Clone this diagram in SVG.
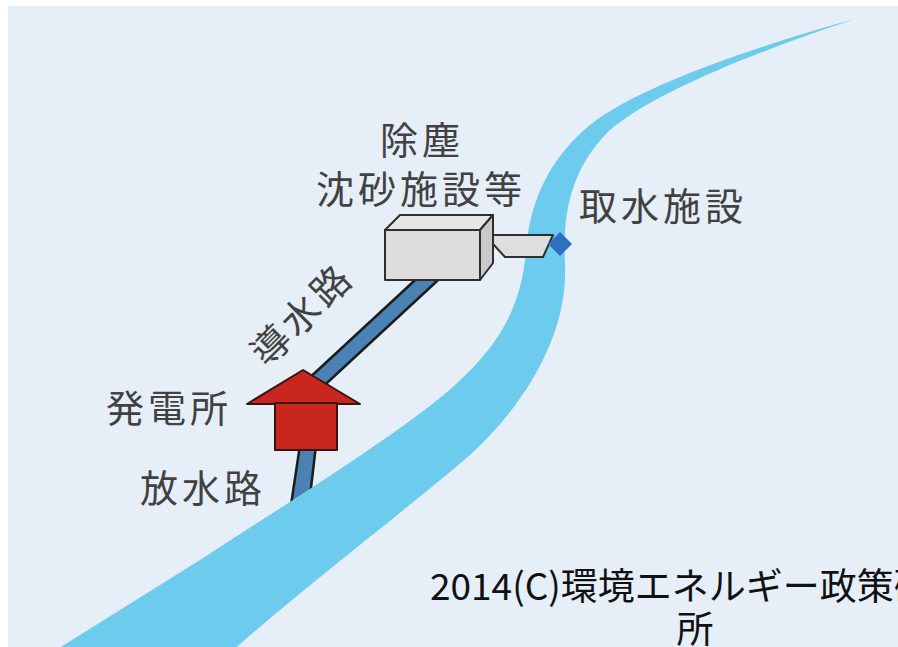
<svg xmlns="http://www.w3.org/2000/svg" width="898" height="647" viewBox="0 0 898 647">
  <style>
    .label { font-family: "Noto Sans CJK JP", "Noto Sans CJK SC", sans-serif; font-size: 38px; fill: #414141; letter-spacing: 4px; }
    .credit { font-family: "Noto Sans CJK JP", "Noto Sans CJK SC", sans-serif; font-size: 37px; fill: #111111; }
    .pipe { fill: #4b82b4; stroke: #1c1c1c; stroke-width: 2.5; stroke-linejoin: round; }
    .red { fill: #c9271d; stroke: #3a1410; stroke-width: 2; stroke-linejoin: round; }
    .box { stroke: #2e2e2e; stroke-width: 2; stroke-linejoin: round; }
  </style>

  <!-- paper -->
  <rect x="0" y="0" width="898" height="647" fill="#ffffff"/>
  <rect x="8" y="6" width="890" height="641" fill="#e6eef7"/>

  <!-- outlet channel (drawn under the river so its end is hidden) -->
  <g id="connectors">
    <polygon id="outlet-pipe" class="pipe" points="300,445 316,445 309,505 291,505"/>
  </g>

  <!-- river -->
  <path id="river" fill="#6dcbed" d="
    M 855,19
    C 760,45 640,85 590,125
    C 550,158 530,200 526,250
    C 522,300 505,340 455,385
    C 405,430 300,495 200,560
    L 40,660
    L 222,660
    C 300,590 400,515 470,455
    C 530,400 568,330 565,265
    C 562,212 572,168 608,132
    C 648,95 760,50 855,19 Z"/>

  <!-- headrace pipe -->
  <g id="connectors-headrace">
    <polygon id="headrace-pipe" class="pipe" points="440,257 450,269 315,394 305,382"/>
  </g>

  <!-- settling basin block -->
  <g id="node-basin">
    <polygon class="box" fill="#e6e6e6" points="385,230 400,215 493,215 480,230"/>
    <polygon class="box" fill="#c9c9c9" points="480,230 493,215 493,263 480,280"/>
    <rect class="box" x="385" y="230" width="95" height="50" fill="#dcdcdc"/>
  </g>

  <!-- intake channel and intake -->
  <g id="node-intake">
    <polygon class="box" fill="#dedede" points="493,235 553,235 543,257 505,257 493,244"/>
    <polygon fill="#2f6fbf" points="560,232 572,244 560,256 548,244"/>
  </g>

  <!-- power house -->
  <g id="node-powerhouse">
    <polygon class="red" points="247,404 303,370 360,404"/>
    <rect class="red" x="275" y="403" width="62" height="47"/>
  </g>

  <!-- labels -->
  <g id="labels">
    <text class="label" x="380" y="154">除塵</text>
    <text class="label" x="316" y="203">沈砂施設等</text>
    <text class="label" x="579" y="220">取水施設</text>
    <text class="label" x="106" y="422">発電所</text>
    <text class="label" x="140" y="502">放水路</text>
    <g transform="translate(302,314) rotate(-45)">
      <text class="label" x="0" y="14" text-anchor="middle">導水路</text>
    </g>
  </g>

  <!-- credit line -->
  <g id="credit">
    <text class="credit" x="430" y="600">2014(C)環境エネルギー政策研究</text>
    <text class="credit" x="695" y="643" text-anchor="middle">所</text>
  </g>
</svg>
